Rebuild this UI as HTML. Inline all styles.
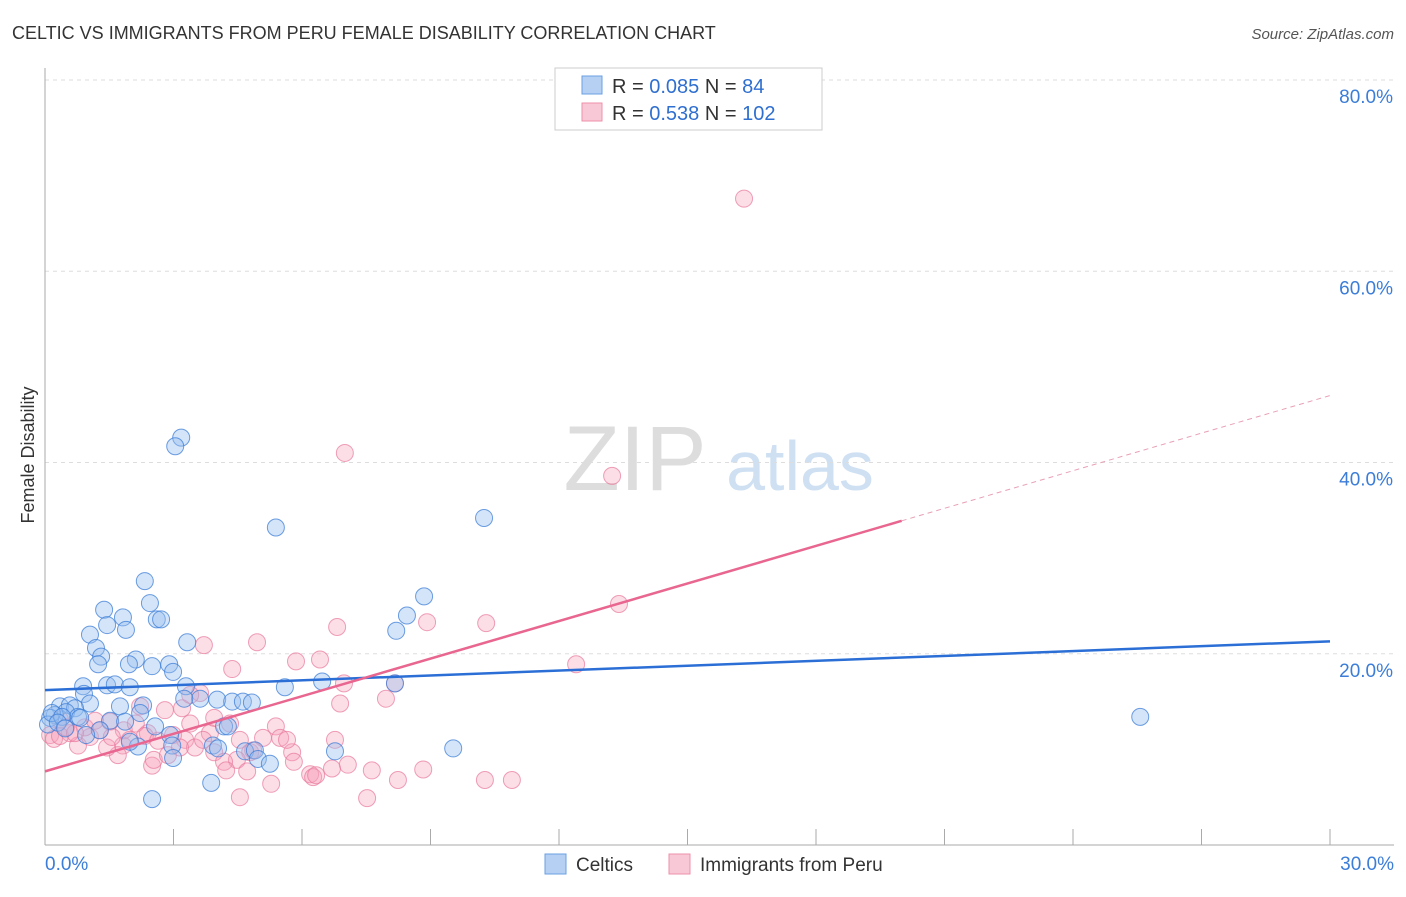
<!DOCTYPE html>
<html><head><meta charset="utf-8"><style>
body{margin:0;background:#fff;font-family:"Liberation Sans",sans-serif}
svg text{font-family:"Liberation Sans",sans-serif}
</style></head><body>
<svg id="c" width="1406" height="892" xmlns="http://www.w3.org/2000/svg">
<text x="12" y="39" font-size="18" fill="#333">CELTIC VS IMMIGRANTS FROM PERU FEMALE DISABILITY CORRELATION CHART</text>
<text x="1394" y="39" font-size="15" fill="#555" font-style="italic" text-anchor="end">Source: ZipAtlas.com</text>
<text x="635" y="490" font-size="92" fill="#ddd" font-family="Liberation Serif" text-anchor="middle">ZIP</text>
<text x="800" y="490" font-size="70" fill="#cfe0f3" text-anchor="middle">atlas</text>
<text x="34" y="455" font-size="18" fill="#333" text-anchor="middle" transform="rotate(-90 34 455)">Female Disability</text>
<g id="grid"></g><g id="axes"></g><g id="pts"></g><g id="lines"></g>
<g>
<rect x="555" y="68" width="267" height="62" fill="#fff" stroke="#ccc"/>
<rect x="582" y="76" width="20" height="18" fill="#b5d0f3" stroke="#6a9fe0"/>
<rect x="582" y="103" width="20" height="18" fill="#f9c8d6" stroke="#ee8fab"/>
<text x="612" y="93" font-size="20" fill="#333">R = <tspan fill="#2f6fd0">0.085</tspan>   N = <tspan fill="#2f6fd0"> 84</tspan></text>
<text x="612" y="120" font-size="20" fill="#333">R = <tspan fill="#2f6fd0">0.538</tspan>   N = <tspan fill="#2f6fd0">102</tspan></text>
</g>
<g>
<rect x="545" y="854" width="21" height="20" fill="#b5d0f3" stroke="#6a9fe0"/>
<text x="576" y="871" font-size="19" fill="#333">Celtics</text>
<rect x="669" y="854" width="21" height="20" fill="#f9c8d6" stroke="#ee8fab"/>
<text x="700" y="871" font-size="19" fill="#333">Immigrants from Peru</text>
</g>
</svg>
<script>
const blueX=[3.18,3.04,5.39,10.25,2.33,8.85,1.38,2.45,1.82,2.61,2.71,8.45,8.20,1.05,1.89,1.45,3.32,1.19,1.31,1.24,2.12,1.96,2.50,2.90,2.99,0.89,1.45,1.63,1.98,3.29,5.60,6.47,8.17,0.91,1.05,3.62,4.02,4.37,4.62,4.83,0.35,0.58,0.70,0.49,0.23,0.12,0.07,0.16,0.77,1.75,2.29,1.52,1.87,2.22,2.57,3.25,4.18,4.27,2.92,2.17,2.97,3.92,4.67,4.90,4.97,5.25,4.04,6.77,9.53,2.50,3.88,2.99,25.57,0.40,0.30,0.47,0.82,1.28,0.96,1.98];
const blueY=[42.6,41.7,33.2,34.2,27.6,26.0,24.6,25.3,23.8,23.6,23.6,24.0,22.4,22.0,22.5,23.0,21.2,20.6,19.7,18.9,19.4,18.9,18.7,18.9,18.1,16.6,16.7,16.8,16.5,16.6,16.5,17.1,16.9,15.8,14.8,15.3,15.2,15.0,15.0,14.9,14.5,14.6,14.3,13.9,13.6,13.3,12.6,13.8,13.4,14.5,14.6,13.0,12.9,13.8,12.4,15.3,12.4,12.4,11.5,10.3,10.4,10.4,9.8,9.9,9.0,8.5,10.1,9.8,10.1,4.8,6.5,9.1,13.4,13.4,12.8,12.2,13.3,12.0,11.5,10.8];
const pinkX=[16.32,7.00,13.24,13.40,12.40,6.82,8.92,10.30,4.95,3.71,5.86,6.42,4.37,6.98,7.96,6.89,8.17,3.62,2.80,3.20,2.22,3.39,3.85,4.55,5.39,5.09,5.49,5.77,5.81,6.19,6.26,4.79,4.48,4.72,5.28,4.55,2.50,2.54,2.99,1.82,1.70,1.45,0.77,1.05,1.28,0.35,0.12,0.21,0.58,0.93,1.84,2.40,3.27,3.50,3.95,4.18,7.07,8.24,8.83,7.52,6.77,10.27,10.90,3.39,3.95,4.32,2.12,2.33,2.64,2.87,3.15,4.86,5.65,6.33,6.70,7.63,4.23,3.69,0.35,0.49,0.70,1.17,1.52,1.98,1.56];
const pinkY=[67.6,41.0,38.6,25.2,18.9,22.8,23.3,23.2,21.2,20.9,19.2,19.4,18.4,16.9,15.3,14.8,16.9,15.9,14.1,14.3,14.5,12.7,11.7,11.0,12.4,11.2,11.2,9.7,8.7,7.4,7.1,9.7,8.9,7.7,6.4,5.0,8.3,8.9,11.5,10.4,9.4,10.2,10.4,11.3,12.0,13.1,11.5,11.1,11.7,12.3,12.0,11.7,11.0,10.2,9.7,8.7,8.4,6.8,7.9,4.9,11.0,6.8,6.8,15.7,13.3,12.7,12.7,11.4,10.9,9.4,10.2,9.9,11.0,7.3,8.0,7.8,7.8,11.0,11.4,12.3,11.7,13.0,12.9,11.0,11.3];
const yTicks=[20,40,60,80];
const xTickLabels=["0.0%","30.0%"];
const blueFit=[16.2,21.3];
const pinkFit=[7.7,1.31];
const X=v=>45+v*(1285/30), Y=v=>845-v*(765/80);
const NS="http://www.w3.org/2000/svg";
function mk(p,t,a){const e=document.createElementNS(NS,t);for(const k in a)e.setAttribute(k,a[k]);p.appendChild(e);return e;}
const grid=document.getElementById('grid'),axes=document.getElementById('axes');
yTicks.forEach(t=>{
 const l=mk(grid,'line',{x1:45,x2:1394,y1:Y(t),y2:Y(t),stroke:'#ddd','stroke-dasharray':'4,4'});
 
 
 const tx=mk(axes,'text',{x:1393,y:Y(t)+23,'font-size':19,fill:'#3b7dd8','text-anchor':'end'});
 tx.textContent=t.toFixed(1)+'%';
 
 
});
const ax=mk(axes,'line',{x1:45,x2:1394,y1:845,y2:845,stroke:'#aaa'});


const ay=mk(axes,'line',{x1:45,x2:45,y1:68,y2:845,stroke:'#aaa'});


for(let i=1;i<=10;i++){const t=mk(axes,'line',{x1:X(i*3),x2:X(i*3),y1:829,y2:845,stroke:'#aaa'});
 
 }
[[0,'start',45],[30,'end',1394]].forEach((d,i)=>{const t=mk(axes,'text',{x:d[2],y:870,'font-size':19,fill:'#3b7dd8','text-anchor':d[1]});t.textContent=xTickLabels[i];
 
 });
const pts=document.getElementById('pts');
pinkX.forEach((v,i)=>{const c=mk(pts,'circle',{cx:X(v),cy:Y(pinkY[i]),r:8.5,fill:'rgba(246,160,185,0.35)',stroke:'rgba(232,120,155,0.7)','stroke-width':1});
 
 });
blueX.forEach((v,i)=>{const c=mk(pts,'circle',{cx:X(v),cy:Y(blueY[i]),r:8.5,fill:'rgba(150,190,240,0.4)',stroke:'rgba(60,125,215,0.75)','stroke-width':1});
 
 });
const ln=document.getElementById('lines');
const b=mk(ln,'line',{x1:X(0),y1:Y(blueFit[0]),x2:X(30),y2:Y(blueFit[1]),stroke:'#2b6fd6','stroke-width':2.5});


const pe=v=>pinkFit[0]+pinkFit[1]*v;
const p1=mk(ln,'line',{x1:X(0),y1:Y(pe(0)),x2:X(20),y2:Y(pe(20)),stroke:'#e8668f','stroke-width':2.5});


const p2=mk(ln,'line',{x1:X(20),y1:Y(pe(20)),x2:X(30),y2:Y(pe(30)),stroke:'#e8a0b5','stroke-width':1,'stroke-dasharray':'5,4'});


</script>
</body></html>
